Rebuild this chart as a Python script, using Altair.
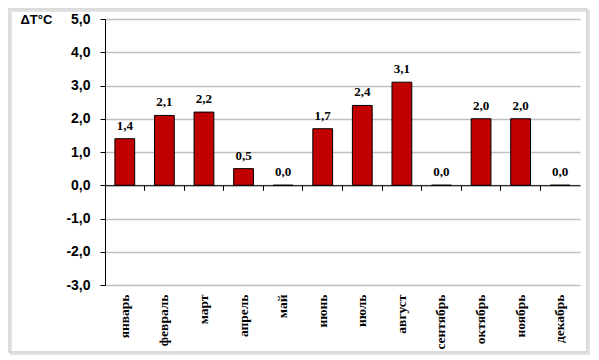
import altair as alt
import pandas as pd

months = ["январь", "февраль", "март", "апрель", "май", "июнь",
          "июль", "август", "сентябрь", "октябрь", "ноябрь", "декабрь"]
values = [1.4, 2.1, 2.2, 0.5, 0.0, 1.7, 2.4, 3.1, 0.0, 2.0, 2.0, 0.0]
y_ticks = [-3, -2, -1, 0, 1, 2, 3, 4, 5]

W, H = 475, 266
PAD = {"left": 97, "top": 11, "right": 10, "bottom": 70}

df = pd.DataFrame({"month": months, "value": values})

comma_fmt = "replace(replace(format(datum.value, '.1f'), '.', ','), '\u2212', '-')"

x_scale = alt.Scale(domain=months, paddingInner=0, paddingOuter=0)
y_scale = alt.Scale(domain=[-3, 5], nice=False)

y_axis = alt.Axis(
    values=y_ticks, tickCount=9, labelExpr=comma_fmt, labelOverlap=False,
    grid=True, gridColor="#c0c0c0", gridWidth=1.5, domainColor="black",
    tickColor="black", tickSize=5, labelPadding=10, labelFont="Liberation Sans",
    labelFontWeight="bold", labelFontSize=14, labelColor="black",
    title="ΔT°C", titleAngle=0, titleX=-85, titleY=0, titleAlign="left",
    titleBaseline="middle", titleFont="Liberation Sans", titleFontWeight="bold",
    titleFontSize=13, titleColor="black",
)

frame_df = pd.DataFrame({"a": [0]})
shadow = alt.Chart(frame_df).mark_rect(fillOpacity=0, stroke="#e2e2e2",
                                       strokeWidth=2, clip=False).encode(
    x=alt.value(-PAD["left"] + 3), x2=alt.value(W + PAD["right"] - 1),
    y=alt.value(-PAD["top"] + 3), y2=alt.value(H + PAD["bottom"] - 1),
)
frame = alt.Chart(frame_df).mark_rect(fillOpacity=0, stroke="#d0d0d0",
                                      strokeWidth=1.5, clip=False).encode(
    x=alt.value(-PAD["left"] + 1), x2=alt.value(W + PAD["right"] - 3),
    y=alt.value(-PAD["top"] + 1), y2=alt.value(H + PAD["bottom"] - 3),
)

bars = alt.Chart(df).mark_bar(
    width=alt.RelativeBandSize(0.5), color="#c00000", stroke="black", strokeWidth=1
).encode(
    x=alt.X("month:N", sort=months, scale=x_scale, axis=alt.Axis(
        orient="bottom", labelAngle=-90, domain=False, ticks=False, grid=False,
        labelOverlap=False, labelFont="Liberation Serif", labelFontWeight="bold",
        labelFontSize=13.5, labelPadding=9, labelColor="black", title=None)),
    y=alt.Y("value:Q", scale=y_scale, axis=y_axis),
)

labels = alt.Chart(df).transform_calculate(
    label=comma_fmt
).mark_text(
    baseline="bottom", dy=-6, font="Liberation Serif", fontWeight="bold",
    fontSize=13, color="black"
).encode(
    x=alt.X("month:N", sort=months, scale=x_scale, axis=alt.Axis(
        orient="bottom", offset=-H * 3 / 8, labels=False, ticks=True,
        bandPosition=0, tickSize=5, tickColor="black", tickWidth=1,
        domain=True, domainColor="black", domainWidth=1, grid=False,
        title=None, zindex=1)),
    y=alt.Y("value:Q", scale=y_scale, axis=y_axis),
    text="label:N",
)

chart = alt.layer(shadow, frame, bars, labels).resolve_axis(
    x="independent"
).properties(
    width=W, height=H,
    autosize=alt.AutoSizeParams(type="none"),
    padding=PAD,
).configure_view(stroke="transparent")

chart.save("out.html", embed_options={"renderer": "svg", "actions": False})
